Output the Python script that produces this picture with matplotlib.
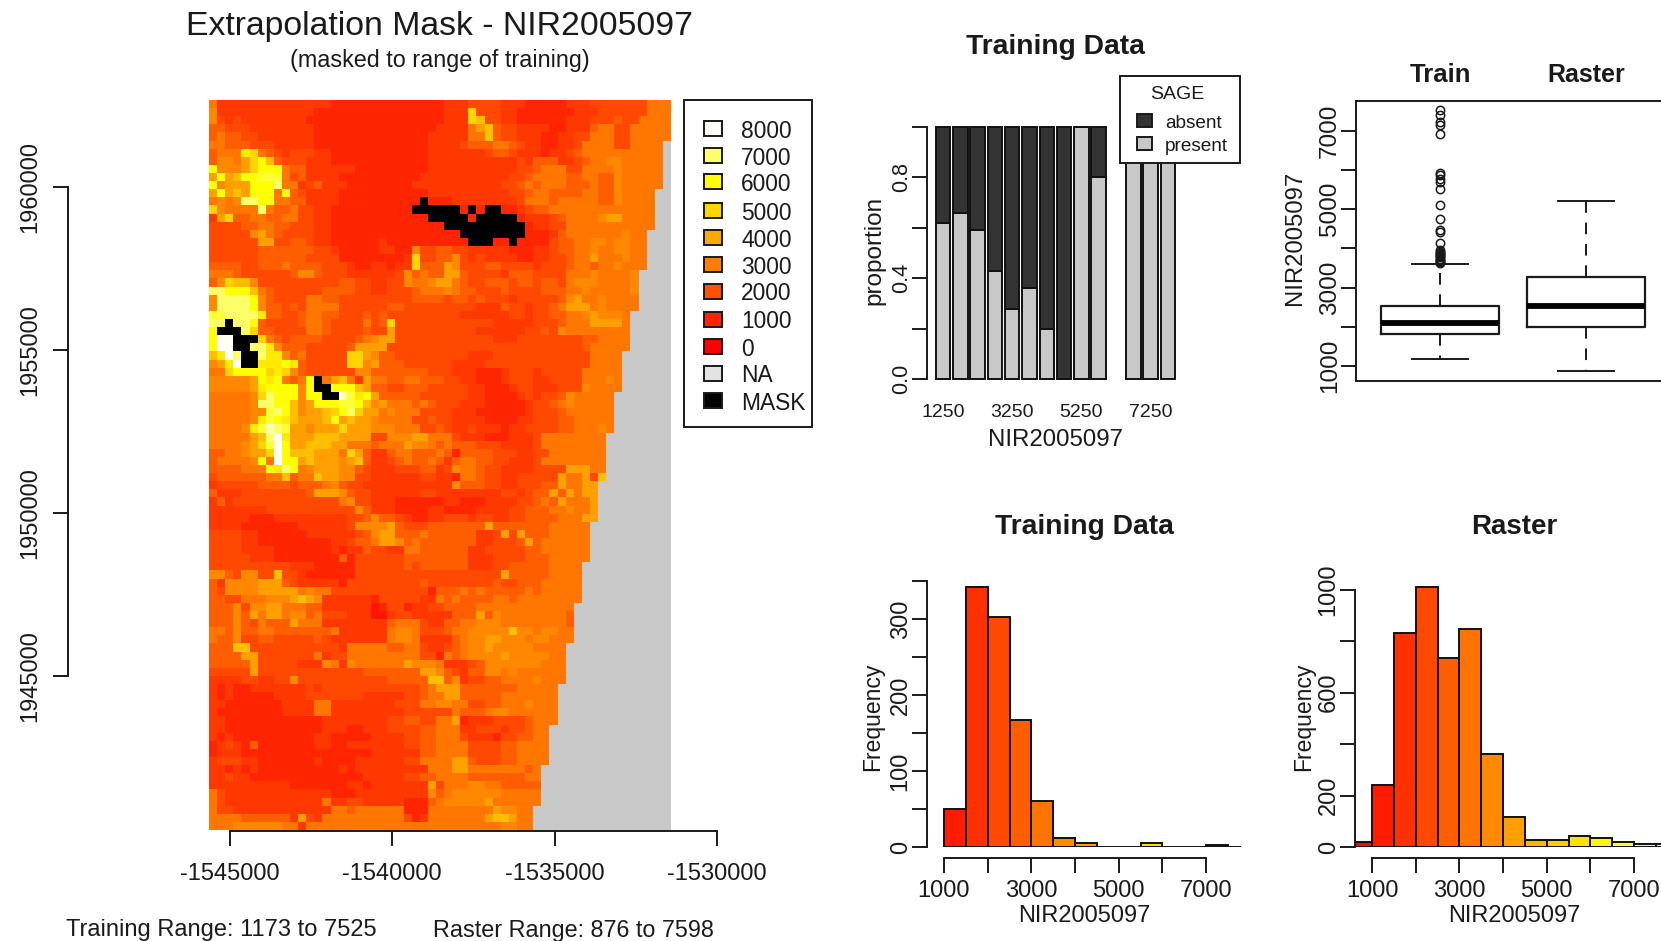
import numpy as np
import matplotlib
matplotlib.use("Agg")
import matplotlib.pyplot as plt
from matplotlib.colors import LinearSegmentedColormap, ListedColormap
from matplotlib.patches import Rectangle

plt.rcParams['font.family'] = ['Liberation Sans', 'DejaVu Sans']

# --- raster values, one char per cell: base 17 digit looked up in CELL_VALUES, M = extrapolation mask ---
RASTER_ROWS = [
    "6333333333 3333322222 2222222223 3344443332 2222333444 4444666",
    "7333333333 3332222222 2222222223 33a4443322 2222233344 4444666",
    "7434333333 3322222222 2222222223 33a9443322 2222333444 5446666",
    "5544433333 3332222222 2222222233 3368954433 3322333566 4466666",
    "5655443333 3332222222 2222222333 3366954433 3223344666 4466666",
    "6655544433 3332222222 2222222333 3455566543 3223346666 446666",
    "5666ba6543 4443322222 2222222333 3333455433 3233456666 666666",
    "57768ac954 4433322222 2222222333 3333333343 5553345667 766666",
    "c7778accc6 5533333322 2222222333 3333333344 5666446666 766666",
    "8c89ccddd6 4533332222 2222223333 3333333445 6666556655 766666",
    "c7888ccce6 6345333222 2222233333 3333334456 5666555655 766666",
    "8c898ccc6c 5433332222 2222222333 3333333445 6655556655 76666",
    "6767eecc66 5533332222 222222M222 3333333346 6656666655 76666",
    "a76666e655 6443322222 22222MMMMM M2M2MM2234 5566666666 66666",
    "38a5566556 6443322222 2222222MMM MM2MMMMM23 3345666678 86666",
    "4444556655 4443322222 222222222M MMMMMMMMM2 3344666666 66666",
    "4444478654 4443322222 2222222222 2MMMMMMMM2 2235666666 6766",
    "4444448844 5543322222 2322222222 22MMM22M22 2245566776 7766",
    "4444445555 5554432222 2332274455 4433333222 3345566766 7766",
    "4444445555 5544442222 22223a4455 7434333322 3344566866 6766",
    "5555445556 5555444322 33233a5558 7444554444 3444566566 7666",
    "6665444444 5775444333 3334756558 8544443555 4444666766 667",
    "57a9974444 4444445544 3344766788 6544555455 4554677766 667",
    "eeccc96544 4444555544 3344456667 6554445444 4555667666 667",
    "7eeeec7544 4466554444 4444455554 5545444344 4445786676 666",
    "7eeeec7554 5466664444 4455444444 4443335443 4456888676 666",
    "ddeeeeb554 4566554445 4544444444 4333333443 4455667877 76",
    "eeMeec5444 4566544446 45a4444444 4444433333 4445666888 86",
    "cMMMea5544 4466544445 4484444444 4443333334 4547666666 66",
    "cggMMMa654 5555444456 7884444444 4444433344 4444445566 66",
    "cggMMeeb75 5544444588 8844444444 4444444444 4444445666 66",
    "9bgeMMebb7 5644444aa8 7554444444 4433344444 4444444666 6",
    "78bgMMbbbc b544444aa7 8555444444 3333444444 4444444666 6",
    "66accccaba 7544444477 5555555444 3332223444 3444446666 6",
    "777778cbc6 56cM689638 6655665554 4332223444 3344446667 6",
    "777778bccc c7cMMccc98 5544555444 4433222344 3334447666 6",
    "666667aecc c7ccMMfdbc 8555554444 4433222234 3445766666",
    "666667eecc 978cccddc9 7866656544 4333222223 4456766666",
    "6666677dec 97889acea8 8676664444 3332222223 4445666666",
    "666667bdcb 98889c8988 7666644544 3333222233 4445566666",
    "66667bdfed 887888a888 7776664454 3343332334 4445566676",
    "6666689egb 8889998888 4477788666 4333222333 466666666",
    "666678adgc 8899988666 5666877656 5554443333 466666666",
    "5566788agc 9998886a85 3356655565 2555544433 446666666",
    "566667c6gc c898887895 3345655653 5665544333 466666666",
    "5555666cbe c678887754 3334445534 7665443333 444488866",
    "4555555669 5669887744 3333334433 2665443344 444866849",
    "3444445555 4555675443 3333333333 7555443344 45586688",
    "5333444444 4458887544 3333334433 3333334434 55858688",
    "3534444444 4444446744 3332222223 3222333344 56586668",
    "3333333444 4444444475 3332222332 2223333445 55667668",
    "3333322233 3333333445 7554322334 4434433445 55566688",
    "3333222222 2333333477 7785444555 5555855555 5566666",
    "4444332222 2233333345 7885556555 5553348485 5566666",
    "4444332222 2222233455 6887565555 5553344458 5666666",
    "4444333322 2222232335 4433665555 5533444445 5666666",
    "4444433322 2222225244 4444555555 5533344445 5566666",
    "4444444444 3332222244 4444545555 5533344555 556666",
    "7754774494 4322222244 4444444444 4444448555 556666",
    "5377778885 4333332444 4444445444 4444454455 566666",
    "5477778888 8676644444 4444444255 5656555556 566666",
    "5544666777 8987333333 2444443365 6555566566 666666",
    "5557477886 6655333333 1244233445 5556666666 66666",
    "5557586886 7756444333 1134433333 5558576666 66665",
    "5557546555 8666333333 3356664335 5667776666 66665",
    "6657556655 5555563333 3367764445 6677777977 67766",
    "6557445544 4445433333 3367763333 5677887776 77666",
    "5559944444 4444443666 6655664334 5677877777 6666",
    "5555884444 4446344666 6666664426 5677778777 7766",
    "5555584444 4333763766 6666877763 3345777777 7666",
    "4444484444 4444444445 5555558875 4355776766 6666",
    "3333443344 7444444444 4455555995 7344556666 7666",
    "3232233333 3343444444 4444445688 8555555566 666",
    "3232222233 3344444443 3333445668 8555556666 666",
    "3322222223 3336633333 3334446677 6644556667 666",
    "3222222223 3336633333 3333444444 6555677666 666",
    "3322222222 2222333333 3344554466 8233344445 666",
    "3322222222 2222333223 3344445566 6334443445 66",
    "3232222222 2223322222 3333445566 6433324455 66",
    "2343252222 2223322333 3333445566 6644445566 66",
    "2333222222 2222222222 3333335566 6644445566 66",
    "3444332222 2223222233 3333446666 8854445566 66",
    "3323232222 2222223233 3333333666 8866666665 6",
    "3343322222 2222222223 3333445566 6655555556 6",
    "3333333333 2222222332 3333333846 6677665555 5",
    "6433333333 3333322233 3333333756 7777776666 6",
    "6433333333 3333633443 3333222567 7777866666 6",
    "6443333333 3333366566 6666222666 6666687766",
    "6666555555 3843666666 6666423666 6666899866",
    "6667777776 6366666666 6666666666 6666667766",
]
CELL_VALUES = [0, 600, 1050, 1450, 1800, 2300, 2900, 3300, 3800, 4500, 5000, 5500, 6000, 6500, 7000, 7500, 8000]
# non-NA cells in each run of rows along the eastern staircase edge
EDGE_RUNS = [5, 6, 5, 5, 5, 5, 5, 5, 6, 5, 5, 5, 5, 5, 5, 5, 5, 3]
EDGE_CELLS = [57, 56, 55, 54, 53, 52, 51, 50, 49, 48, 47, 46, 45, 44, 43, 42, 41, 40]
N_COLS = 57

LEGEND_VALUES = ["8000", "7000", "6000", "5000", "4000", "3000", "2000", "1000", "0"]
RAMP_VALUES = [0, 1000, 2000, 3000, 4000, 5000, 6000, 7000, 8000]
RAMP_COLORS = ["#FF0000", "#FF2400", "#FF5200", "#FF7C00", "#FFA800", "#FFD400", "#FFFF00", "#FFFF66", "#FFFFF5"]

# spineplot
BIN_CENTRES = [1250, 1750, 2250, 2750, 3250, 3750, 4250, 4750, 5250, 5750, 6750, 7250, 7750]
PRESENT = [0.62, 0.66, 0.59, 0.43, 0.277, 0.36, 0.20, 0.0, 1.0, 0.80, 1.0, 1.0, 1.0]

# boxplots
TRAIN_STATS = dict(med=2105, q1=1816, q3=2539, whislo=1173, whishi=3610,
                   fliers=[3620, 3650, 3680, 3710, 3740, 3770, 3800, 3830, 3860, 3890, 3920, 3950,
                           4138, 4418, 4460, 4758, 5098, 5524, 5694, 5779, 5864, 5923,
                           6927, 7139, 7224, 7394, 7525])
RASTER_STATS = dict(med=2539, q1=2003, q3=3270, whislo=876, whishi=5200, fliers=[])

# histograms
TRAIN_EDGES = [1000, 1500, 2000, 2500, 3000, 3500, 4000, 4500, 5000, 5500, 6000, 6500, 7000, 7500]
TRAIN_COUNTS = [50, 342, 302, 167, 60, 12, 5, 0, 0, 5, 0, 0, 3, 0]
RASTER_EDGES = [500, 1000, 1500, 2000, 2500, 3000, 3500, 4000, 4500, 5000, 5500, 6000, 6500, 7000, 7500]
RASTER_COUNTS = [19, 240, 832, 1008, 734, 846, 360, 117, 28, 28, 41, 35, 19, 12, 10]

W, H = 1661, 941
INK = "#1a1a1a"
LW = 1.4
heat = LinearSegmentedColormap.from_list("heat", [(v / 8000, c) for v, c in zip(RAMP_VALUES, RAMP_COLORS)])


def px_axes(left, top, right, bottom):
    a = fig.add_axes([left / W, 1 - bottom / H, (right - left) / W, (bottom - top) / H])
    a.patch.set_alpha(0)
    return a


def r_style(a, fontsize=16):
    # R base graphics axes: only left and bottom, line stops at the outer ticks
    for side in ("top", "right"):
        a.spines[side].set_visible(False)
    for side in ("left", "bottom"):
        a.spines[side].set_linewidth(LW)
        a.spines[side].set_color(INK)
    a.tick_params(length=10.5, width=LW, color=INK, labelsize=fontsize, labelcolor=INK)
    for t in a.get_yticklabels():
        t.set_rotation(90)
        t.set_va("center")


def lin(px0, val0, px_per_unit, px):
    return val0 + (px - px0) / px_per_unit


fig = plt.figure(figsize=(W / 100, H / 100), dpi=100)

# --- main raster ---
cell_rows = []
row_limits = np.repeat(EDGE_CELLS, EDGE_RUNS)
for row, n in zip(RASTER_ROWS, row_limits):
    s = row.replace(" ", "")
    cell_rows.append(s[:n].ljust(n, s[-1]).ljust(N_COLS, "."))

values = np.full((len(cell_rows), N_COLS), np.nan)
mask = np.full((len(cell_rows), N_COLS), np.nan)
for i, s in enumerate(cell_rows):
    for j, ch in enumerate(s):
        if ch == "M":
            mask[i, j] = 1
        elif ch != ".":
            values[i, j] = CELL_VALUES[int(ch, 17)]

ax = px_axes(68, 100, 717, 830.5)
x_scale = 163 / 5000
extent = [lin(230, -1545000, x_scale, 209), lin(230, -1545000, x_scale, 672),
          lin(187, 1960000, -x_scale, 830), lin(187, 1960000, -x_scale, 100)]
cmap = heat.copy()
cmap.set_bad("#C8C8C8")
ax.imshow(values, cmap=cmap, vmin=0, vmax=8000, extent=extent, aspect="auto", interpolation="nearest", zorder=3)
ax.imshow(np.ma.masked_invalid(mask), cmap=ListedColormap(["black"]), extent=extent, aspect="auto",
          interpolation="nearest", zorder=4)
ax.set_xlim(lin(230, -1545000, x_scale, 68), lin(230, -1545000, x_scale, 717))
ax.set_ylim(lin(187, 1960000, -x_scale, 830.5), lin(187, 1960000, -x_scale, 100))
ax.set_xticks([-1545000, -1540000, -1535000, -1530000])
ax.set_xticklabels(["-1545000", "-1540000", "-1535000", "-1530000"])
ax.set_yticks([1945000, 1950000, 1955000, 1960000])
ax.set_yticklabels(["1945000", "1950000", "1955000", "1960000"])
r_style(ax, 17)
ax.tick_params(axis="x", pad=13)
ax.tick_params(axis="y", pad=9)
ax.spines["left"].set_bounds(1945000, 1960000)
ax.spines["bottom"].set_bounds(-1545000, -1530000)

# --- spineplot ---
sp = px_axes(927, 127, 1190, 379)
sp_scale = 17.3 / 500
sp.set_xlim(lin(943, 1250, sp_scale, 927), lin(943, 1250, sp_scale, 1190))
sp.set_ylim(0, 1)
present = np.array(PRESENT)
sp.bar(BIN_CENTRES, present, width=420, color="#C8C8C8", edgecolor="#111111", linewidth=LW, clip_on=False)
sp.bar(BIN_CENTRES, 1 - present, bottom=present, width=420, color="#333333", edgecolor="#111111",
       linewidth=LW, clip_on=False)
sp.set_xticks([1250, 3250, 5250, 7250])
sp.set_xticklabels(["1250", "3250", "5250", "7250"])
sp.set_yticks([0, 0.2, 0.4, 0.6, 0.8, 1.0])
sp.set_yticklabels(["0.0", "", "0.4", "", "0.8", ""])
r_style(sp, 15.5)
sp.spines["bottom"].set_visible(False)
sp.tick_params(axis="x", length=0, pad=18, labelsize=14)
sp.tick_params(axis="y", pad=0.5)

# --- boxplots ---
bx = px_axes(1356, 101, 1690, 381)
bx.set_xlim(lin(1440, 1, 146, 1356), lin(1440, 1, 146, 1690))
bx_scale = 39.2 / 1000
bx.set_ylim(lin(366, 1000, -bx_scale, 381), lin(366, 1000, -bx_scale, 101))
bx.bxp([TRAIN_STATS, RASTER_STATS], positions=[1, 2], widths=0.81, capwidths=0.39, manage_ticks=False,
       boxprops=dict(linewidth=LW + 0.2, color=INK),
       whiskerprops=dict(linewidth=LW, color=INK, linestyle=(0, (6, 5))),
       capprops=dict(linewidth=LW, color=INK),
       medianprops=dict(linewidth=4.2, color="black", solid_capstyle="butt"),
       flierprops=dict(marker="o", markerfacecolor="none", markeredgecolor=INK, markersize=6, markeredgewidth=1.1))
bx.set_yticks([1000, 2000, 3000, 4000, 5000, 6000, 7000])
bx.set_yticklabels(["1000", "", "3000", "", "5000", "", "7000"])
bx.set_xticks([])
r_style(bx, 17.5)
bx.spines["top"].set_visible(True)
bx.spines["top"].set_linewidth(LW)
bx.spines["top"].set_color(INK)
bx.tick_params(axis="y", pad=0.5)

# --- histograms ---
hist_x = 43.67 / 1000
for edges, counts, left, right, x1000, y_scale, y_ticks, y_labels in [
    (TRAIN_EDGES, TRAIN_COUNTS, 927, 1241, 944, 76 / 100, [0, 50, 100, 150, 200, 250, 300, 350],
     ["0", "", "100", "", "200", "", "300", ""]),
    (RASTER_EDGES, RASTER_COUNTS, 1355, 1690, 1372, 257.5 / 1000, [0, 200, 400, 600, 800, 1000],
     ["0", "200", "", "600", "", "1000"]),
]:
    h = px_axes(left, 560, right, 847)
    h.set_xlim(lin(x1000, 1000, hist_x, left), lin(x1000, 1000, hist_x, right))
    h.set_ylim(0, 287 / y_scale)
    colors = [heat((e - 200) / 8000) for e in edges]
    h.bar(edges, counts, width=500, align="edge", color=colors, edgecolor="#111111", linewidth=LW)
    h.set_xticks([1000, 2000, 3000, 4000, 5000, 6000, 7000])
    h.set_xticklabels(["1000", "", "3000", "", "5000", "", "7000"])
    h.set_yticks(y_ticks)
    h.set_yticklabels(y_labels)
    r_style(h, 17)
    h.spines["bottom"].set_position(("outward", 8))
    h.spines["bottom"].set_bounds(1000, 7000)
    h.spines["left"].set_bounds(0, y_ticks[-1])
    h.tick_params(axis="x", pad=5)
    h.tick_params(axis="y", pad=0.5)

# --- titles, free labels and legends in pixel coordinates ---
page = fig.add_axes([0, 0, 1, 1], zorder=20)
page.set_xlim(0, W)
page.set_ylim(H, 0)
page.axis("off")


def label(x, y, s, size=16.5, rotation=0, weight="normal", ha="center"):
    # va=center sits a little high with this font, so horizontal text goes down 3 px
    page.text(x, y + (3 if rotation == 0 else 0), s, fontsize=size, rotation=rotation, fontweight=weight, ha=ha,
              va="center", color=INK, rotation_mode="anchor" if rotation == 0 else "default")


label(440, 23, "Extrapolation Mask - NIR2005097", size=24.3)
label(440, 57, "(masked to range of training)", size=16.8)
label(66, 927, "Training Range: 1173 to 7525", size=17, ha="left")
label(433, 927, "Raster Range: 876 to 7598", size=16.8, ha="left")

label(1055, 44, "Training Data", size=20.3, weight="bold")
label(874, 250, "proportion", size=17.5, rotation=90)
label(1055, 437, "NIR2005097", size=17.3)
label(1440, 72, "Train", size=18.5, weight="bold")
label(1586, 72, "Raster", size=18, weight="bold")
label(1295, 238, "NIR2005097", size=17.2, rotation=90)
label(1084, 524, "Training Data", size=20.3, weight="bold")
label(1514, 524, "Raster", size=20, weight="bold")
label(873, 717, "Frequency", rotation=90)
label(1304, 717, "Frequency", rotation=90)
label(1084, 913, "NIR2005097", size=17)
label(1514, 913, "NIR2005097", size=17)

# raster legend
page.add_patch(Rectangle((684, 100), 128, 327, facecolor="white", edgecolor=INK, linewidth=LW))
legend_y = [128, 155, 181, 210, 237, 264, 291, 319, 346, 373, 400]
legend_labels = LEGEND_VALUES + ["NA", "MASK"]
legend_colors = [heat(int(v) / 8000) for v in LEGEND_VALUES] + ["#E3E3E3", "black"]
for y, text, color in zip(legend_y, legend_labels, legend_colors):
    page.add_patch(Rectangle((703.5, y - 7.5), 18, 15, facecolor=color, edgecolor=INK, linewidth=LW))
    label(741, y, text, size=16.4, ha="left")

# spineplot legend
page.add_patch(Rectangle((1120, 76), 120, 87, facecolor="white", edgecolor=INK, linewidth=LW))
label(1177, 91, "SAGE", size=14)
for y, text, color in zip([120, 143], ["absent", "present"], ["#333333", "#C8C8C8"]):
    page.add_patch(Rectangle((1137, y - 6.5), 15, 13, facecolor=color, edgecolor=INK, linewidth=LW))
    label(1165, y + 0.5, text, size=13.7, ha="left")

fig.savefig("out.png", dpi=100)
